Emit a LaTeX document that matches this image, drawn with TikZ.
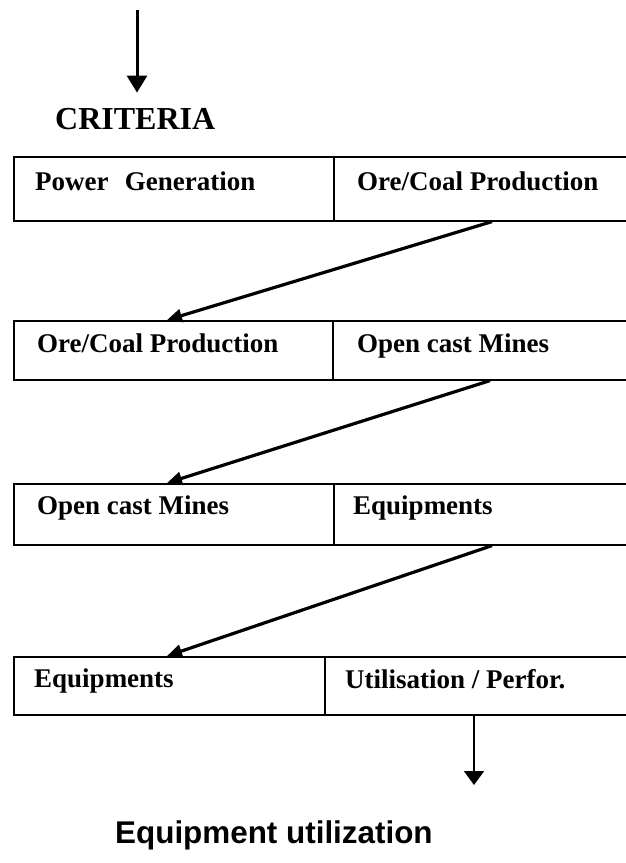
\documentclass[tikz,border=0pt]{standalone}
\usepackage{fontspec}
\setmainfont{Liberation Serif}
\newfontfamily\captionfont{Liberation Sans}
\usetikzlibrary{arrows.meta,calc}
\begin{document}
\begin{tikzpicture}[x=1pt,y=-1pt,
  cell/.style={draw,line width=1.6pt,rectangle,inner sep=0pt,anchor=north west},
  celltext/.style={anchor=base west,inner sep=0pt,font=\bfseries\fontsize{27}{31}\selectfont},
  headtext/.style={anchor=base west,inner sep=0pt,font=\bfseries\fontsize{32}{36}\selectfont},
  flow/.style={line width=3.2pt,-{Triangle[width=13pt,length=15pt]}},
  inflow/.style={line width=3pt,-{Triangle[width=20pt,length=17pt]}},
  outflow/.style={line width=2pt,-{Triangle[width=20pt,length=14pt]}},
  foot/.style={anchor=base west,inner sep=0pt,font=\captionfont\bfseries\fontsize{31.4}{36}\selectfont}
]
\clip (0,0) rectangle (626,863);

% heading and incoming arrow
\node[headtext] (crit) at (55,129) {CRITERIA};
\coordinate (start) at (137,10);
\draw[inflow,shorten >=15pt] (start) -- (start |- crit.north);

% row 1
\node[cell,minimum width=320pt,minimum height=64pt] (L1) at (13,156) {};
\node[cell,minimum width=310pt,minimum height=64pt] (R1) at (333,156) {};
\node[celltext] (t1l) at (35,190) {Power\hspace{0.6em}Generation};
\node[celltext] (t1r) at (357,190) {Ore/Coal Production};

% row 2
\node[cell,minimum width=319pt,minimum height=59pt] (L2) at (13,320) {};
\node[cell,minimum width=311pt,minimum height=59pt] (R2) at (332,320) {};
\node[celltext] (t2l) at (37,352) {Ore/Coal Production};
\node[celltext] (t2r) at (357,352) {Open cast Mines};

% row 3
\node[cell,minimum width=320pt,minimum height=61pt] (L3) at (13,483) {};
\node[cell,minimum width=310pt,minimum height=61pt] (R3) at (333,483) {};
\node[celltext] (t3l) at (37,514) {Open cast Mines};
\node[celltext] (t3r) at (353,514) {Equipments};

% row 4
\node[cell,minimum width=311pt,minimum height=58pt] (L4) at (13,656) {};
\node[cell,minimum width=319pt,minimum height=58pt] (R4) at (324,656) {};
\node[celltext] (t4l) at (34,687) {Equipments};
\node[celltext] (t4r) at (345,688) {Utilisation / Perfor.};

% links between rows
\draw[flow] ([xshift=159pt]R1.south west) -- ([xshift=154pt]L2.north west);
\draw[flow] ([xshift=158pt]R2.south west) -- ([xshift=154pt]L3.north west);
\draw[flow] ([xshift=159pt]R3.south west) -- ([xshift=154pt]L4.north west);

% outgoing arrow and caption
\coordinate (stop) at (474,785);
\draw[outflow] ([xshift=150pt]R4.south west) -- (stop);
\node[foot] (result) at (115,843) {Equipment utilization};
\end{tikzpicture}
\end{document}
